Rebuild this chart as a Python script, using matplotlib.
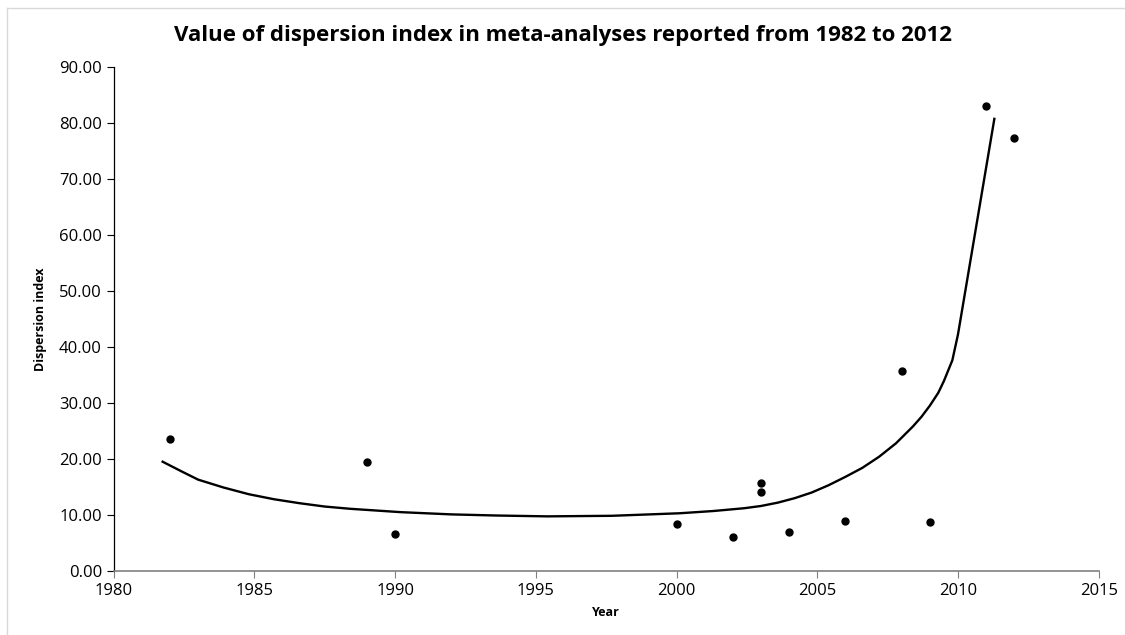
import matplotlib.pyplot as plt
from matplotlib.lines import Line2D

plt.rcParams['font.family'] = ['Open Sans', 'DejaVu Sans']

# observed meta-analyses
years = [1982, 1989, 1990, 2000, 2002, 2003, 2003, 2004, 2006, 2008, 2009, 2011, 2012]
dispersion = [23.5, 19.4, 6.6, 8.4, 6.0, 15.7, 14.1, 7.0, 8.9, 35.7, 8.8, 82.9, 77.2]

# trend line
trend_years = [1981.7, 1982.4, 1983.0, 1983.9, 1984.8, 1985.7, 1986.6, 1987.5,
               1988.4, 1989.3, 1990.2, 1991.1, 1992.0, 1993.6, 1995.4, 1997.7,
               2000.1, 2001.3, 2002.4, 2003.0, 2003.6, 2004.2, 2004.8, 2005.4,
               2006.0, 2006.6, 2007.2, 2007.8, 2008.4, 2008.7, 2009.0, 2009.3,
               2009.5, 2009.8, 2010.0, 2011.3]
trend_vals = [19.6, 17.8, 16.3, 14.9, 13.7, 12.8, 12.1, 11.5,
              11.1, 10.8, 10.5, 10.3, 10.1, 9.9, 9.75, 9.85,
              10.3, 10.7, 11.2, 11.6, 12.2, 13.0, 14.0, 15.3,
              16.8, 18.4, 20.4, 22.8, 25.8, 27.5, 29.5, 31.8,
              33.9, 37.6, 42.2, 80.9]

x_ticks = [1980, 1985, 1990, 1995, 2000, 2005, 2010, 2015]
y_ticks = [0, 10, 20, 30, 40, 50, 60, 70, 80, 90]

fig = plt.figure(figsize=(11.25, 6.35), dpi=100)
ax = fig.add_axes([0.1011, 0.1008, 0.8755, 0.7942])

ax.plot(trend_years, trend_vals, color='black', linewidth=1.7,
        solid_joinstyle='round', solid_capstyle='butt', zorder=2)
ax.plot(years, dispersion, 'o', color='black', markersize=5, zorder=3)

ax.set_xlim(1980, 2015)
ax.set_ylim(0, 90)
ax.set_xticks(x_ticks)
ax.set_yticks(y_ticks)
ax.set_yticklabels(['%.2f' % v for v in y_ticks])
ax.tick_params(axis='both', labelsize=12, length=5, width=0.8, direction='out')
ax.tick_params(axis='x', colors='#808080', labelcolor='black', pad=4)

for s in ['top', 'right']:
    ax.spines[s].set_visible(False)
ax.spines['left'].set_color('black')
ax.spines['left'].set_linewidth(0.9)
ax.spines['bottom'].set_color('#808080')
ax.spines['bottom'].set_linewidth(1.2)

fig.suptitle('Value of dispersion index in meta-analyses reported from 1982 to 2012',
             x=0.5, y=1 - 35 / 635, va='center', fontsize=16, fontweight='bold')
ax.set_xlabel('Year', fontsize=9, fontweight='bold', labelpad=5)
ax.set_ylabel('Dispersion index', fontsize=9, fontweight='bold', labelpad=9)

# light frame around the chart area
fig.add_artist(Line2D([7 / 1125, 1], [1 - 8 / 635, 1 - 8 / 635], color='#d9d9d9', linewidth=1))
fig.add_artist(Line2D([7 / 1125, 7 / 1125], [0, 1 - 8 / 635], color='#d9d9d9', linewidth=1))

fig.savefig('out.png', dpi=100)
